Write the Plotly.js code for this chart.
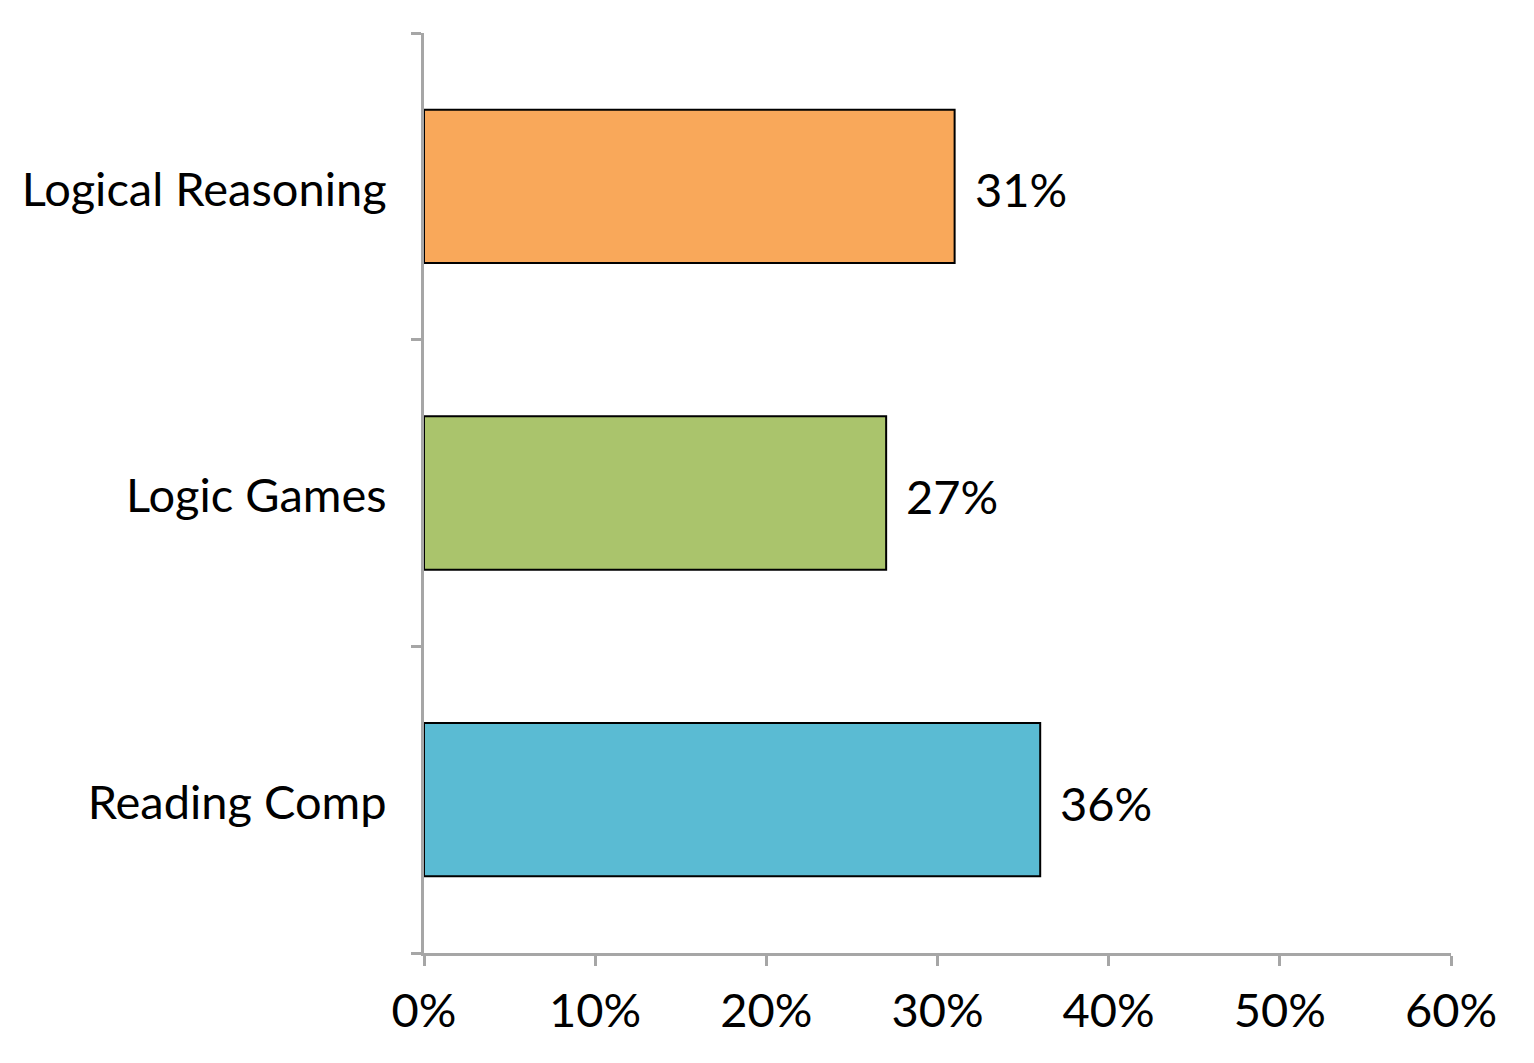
<!DOCTYPE html>
<html>
<head>
<meta charset="utf-8">
<script src="https://cdn.plot.ly/plotly-3.0.1.min.js"></script>
<style>html,body{margin:0;padding:0;background:#fff;}#chart{width:1534px;height:1063px;}</style>
</head>
<body>
<div id="chart"></div>
<script>
const categories = ["Logical Reasoning", "Logic Games", "Reading Comp"];
const values = [0.31, 0.27, 0.36];
const labels = ["31%", "27%", "36%"];
const colors = ["#F9A85A", "#AAC46C", "#5ABBD3"];
const tickVals = [0, 0.1, 0.2, 0.3, 0.4, 0.5, 0.6];
const tickText = ["0%", "10%", "20%", "30%", "40%", "50%", "60%"];

const FONT = "Lato, 'Open Sans', sans-serif";

const trace = {
  type: "bar",
  orientation: "h",
  x: values,
  y: categories,
  width: 0.5,
  marker: { color: colors, line: { color: "#000", width: 2 } },
  hoverinfo: "none"
};

const annotations = categories.map((c, i) => ({
  x: values[i], y: c, xref: "x", yref: "y",
  text: labels[i], showarrow: false, xanchor: "left", yanchor: "middle",
  xshift: 18, yshift: -3, font: { family: FONT, size: 47, color: "#000" }
}));

const layout = {
  width: 1534, height: 1063,
  margin: { l: 424, r: 83, t: 33, b: 110, pad: 0 },
  paper_bgcolor: "#fff", plot_bgcolor: "#fff",
  showlegend: false,
  font: { family: FONT, size: 47, color: "#000" },
  xaxis: {
    range: [0, 0.6], tickvals: tickVals, ticktext: tickText,
    showgrid: false, zeroline: false,
    showline: true, linecolor: "#A6A6A6", linewidth: 3,
    ticks: "outside", ticklen: 10, tickwidth: 3, tickcolor: "#A6A6A6",
    tickfont: { family: FONT, size: 47, color: "#000" },
    ticklabelstandoff: 5,
    fixedrange: true
  },
  yaxis: {
    categoryorder: "array", categoryarray: categories.slice().reverse(),
    range: [-0.5, 2.5],
    tickson: "boundaries",
    showgrid: false, zeroline: false,
    showline: true, linecolor: "#A6A6A6", linewidth: 3,
    ticks: "outside", ticklen: 10, tickwidth: 3, tickcolor: "#A6A6A6",
    tickfont: { family: FONT, size: 47, color: "#000" },
    ticklabelstandoff: 25,
    ticklabelshift: 3,
    fixedrange: true
  },
  annotations: annotations
};

Plotly.newPlot("chart", [trace], layout, { displayModeBar: false, staticPlot: true });
</script>
</body>
</html>
